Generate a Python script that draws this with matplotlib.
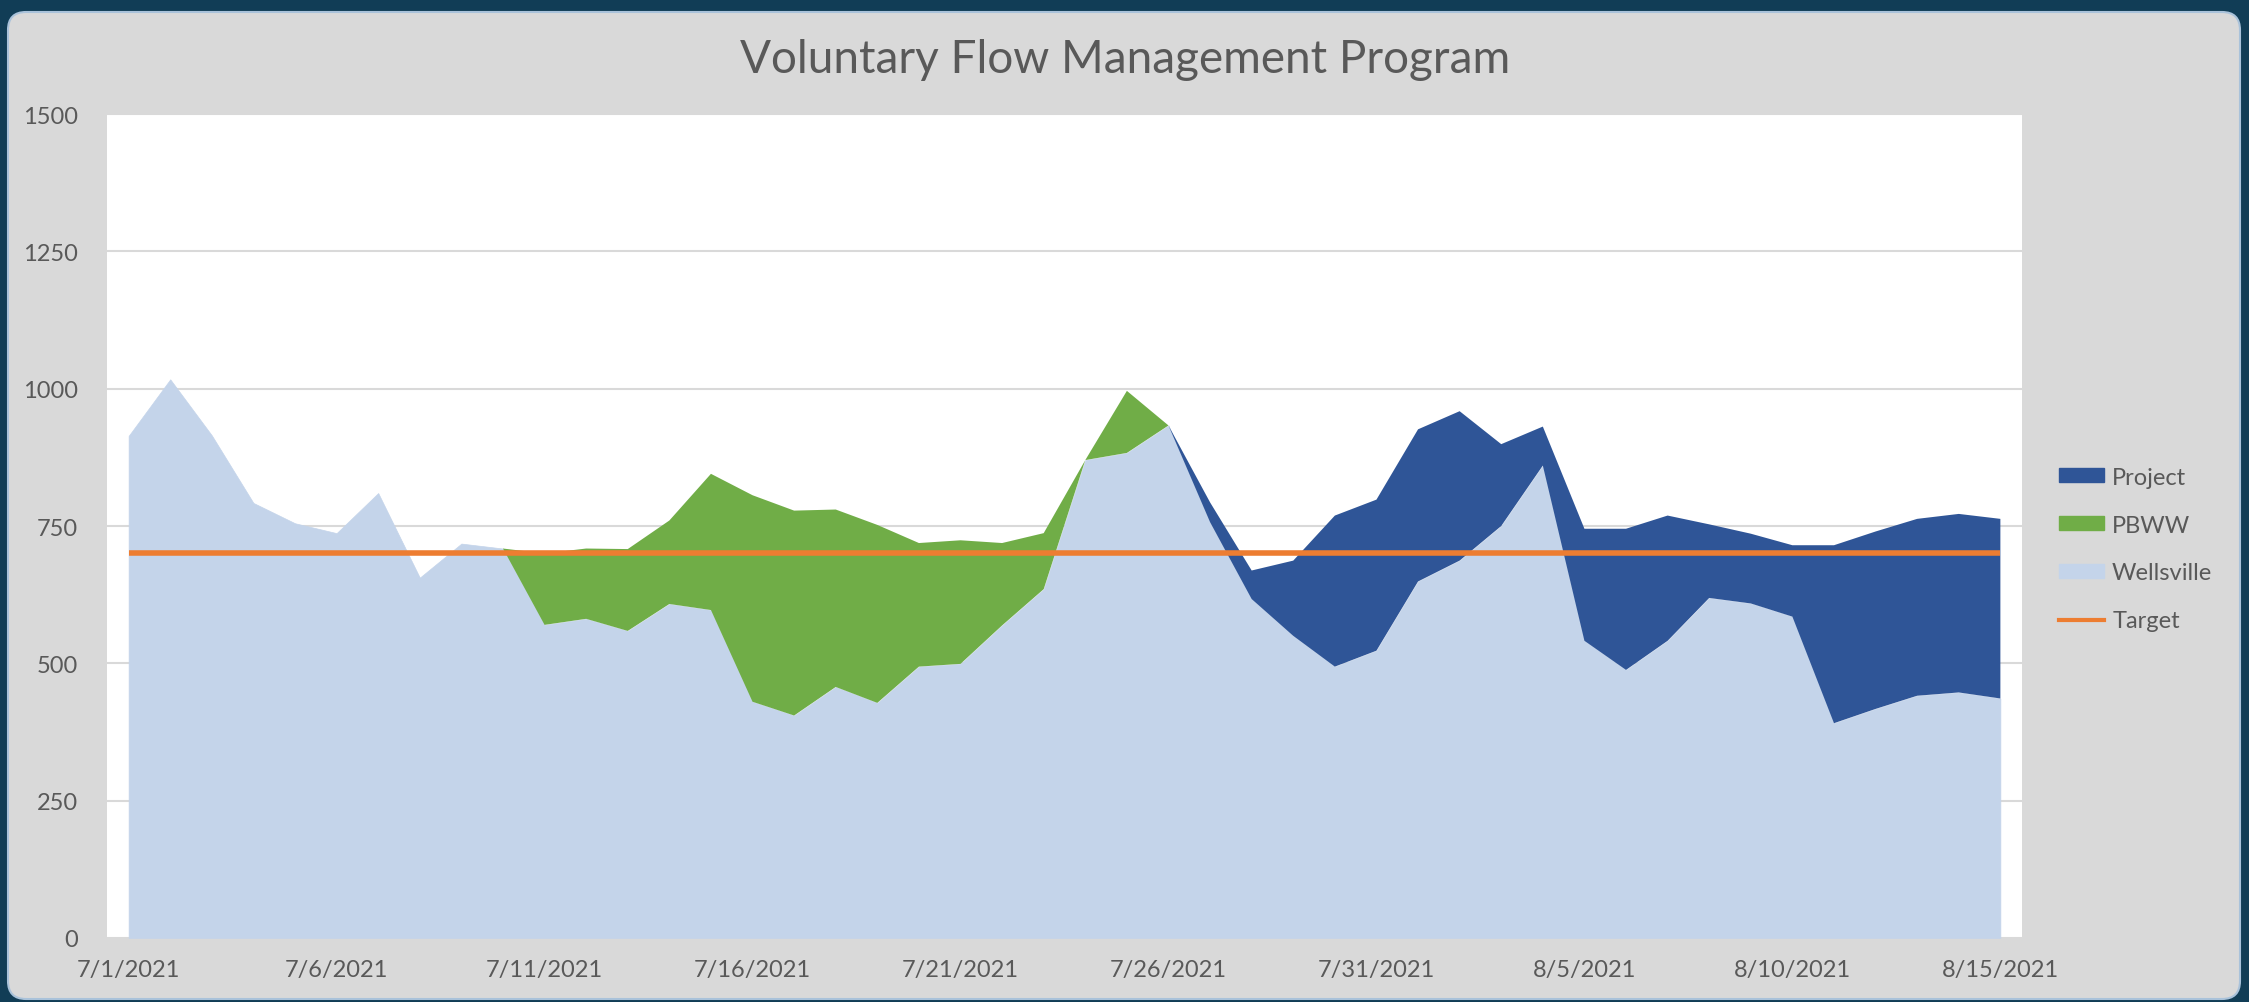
import numpy as np
import pandas as pd
import matplotlib
matplotlib.use("Agg")
import matplotlib.pyplot as plt
from matplotlib.patches import FancyBboxPatch, Patch
from matplotlib.lines import Line2D

# daily flows, 7/1/2021 .. 8/15/2021
dates = pd.date_range("2021-07-01", "2021-08-15", freq="D")

wellsville = [914, 1017, 915, 792, 755, 737, 810, 656, 718, 709,
              570, 581, 559, 608, 597, 430, 405, 457, 428, 494,
              499, 569, 635, 870, 883, 933, 757, 617, 550, 494,
              523, 649, 687, 750, 860, 541, 488, 541, 619, 609,
              585, 391, 417, 441, 447, 436]

pbww = [0, 0, 0, 0, 0, 0, 0, 0, 0, 0,
        130, 128, 149, 152, 248, 376, 373, 323, 324, 225,
        225, 150, 102, 0, 113, 0, 0, 0, 0, 0,
        0, 0, 0, 0, 0, 0, 0, 0, 0, 0,
        0, 0, 0, 0, 0, 0]

project = [0, 0, 0, 0, 0, 0, 0, 0, 0, 0,
           0, 0, 0, 0, 0, 0, 0, 0, 0, 0,
           0, 0, 0, 0, 0, 0, 36, 52, 137, 275,
           275, 277, 272, 149, 71, 204, 257, 228, 134, 127,
           130, 324, 323, 322, 325, 327]

target = [700] * len(dates)

W, H = 2249, 1003
fig = plt.figure(figsize=(W / 100, H / 100), dpi=100)
fig.patch.set_facecolor("#113d56")

# grey rounded chart panel
bg = fig.add_axes([0, 0, 1, 1], zorder=-1)
bg.set_xlim(0, W)
bg.set_ylim(0, H)
bg.axis("off")
bg.add_patch(FancyBboxPatch((8, 3), 2232, 987, boxstyle="round,pad=0,rounding_size=18",
                            facecolor="#d9d9d9", edgecolor="#a9c2da", linewidth=1.5))

ax = fig.add_axes([107 / W, 1 - 939 / H, (2022 - 107) / W, (939 - 115) / H])
ax.set_facecolor("white")

x = np.arange(len(dates))
well = np.array(wellsville)
mid = well + np.array(pbww)
top = mid + np.array(project)

c_well, c_pbww, c_proj, c_tgt = "#c4d4ea", "#70ad47", "#2f5597", "#ed7d31"
ax.fill_between(x, 0, well, facecolor=c_well, edgecolor=c_well, lw=0.5, zorder=2)
ax.fill_between(x, well, mid, facecolor=c_pbww, edgecolor="none", lw=0, zorder=2)
ax.fill_between(x, mid, top, facecolor=c_proj, edgecolor="none", lw=0, zorder=2)
ax.plot(x, target, color=c_tgt, lw=4, zorder=3, solid_capstyle="butt")

ax.set_xlim(-0.52, len(dates) - 0.48)
ax.set_ylim(0, 1500)
ax.set_yticks(range(0, 1501, 250))
ax.grid(axis="y", color="#d9d9d9", lw=1.5, zorder=1)
ax.set_axisbelow(True)
for s in ax.spines.values():
    s.set_visible(False)

tick_idx = list(range(0, len(dates), 5))
ax.set_xticks(tick_idx)
ax.set_xticklabels([f"{dates[i].month}/{dates[i].day}/{dates[i].year}" for i in tick_idx])
ax.tick_params(axis="both", length=0, colors="#595959", labelsize=17)
ax.tick_params(axis="y", pad=21)
ax.tick_params(axis="x", pad=15)
for lab in ax.get_xticklabels() + ax.get_yticklabels():
    lab.set_fontfamily("Lato")

fig.text(1125 / W, 1 - 73 / H, "Voluntary Flow Management Program", ha="center", va="baseline",
         fontsize=33, color="#595959", family="Lato")

handles = [Patch(color=c_proj, label="Project"),
           Patch(color=c_pbww, label="PBWW"),
           Patch(color=c_well, label="Wellsville"),
           Line2D([0], [0], color=c_tgt, lw=3, label="Target")]
fig.legend(handles=handles, loc="center left", bbox_to_anchor=(2038 / W, 1 - 550 / H),
           frameon=False, prop={"family": "Lato", "size": 17}, labelcolor="#595959",
           handlelength=1.9, handleheight=0.55, handletextpad=0.34, labelspacing=1.14)

fig.savefig("out.png", dpi=100, facecolor=fig.get_facecolor())
